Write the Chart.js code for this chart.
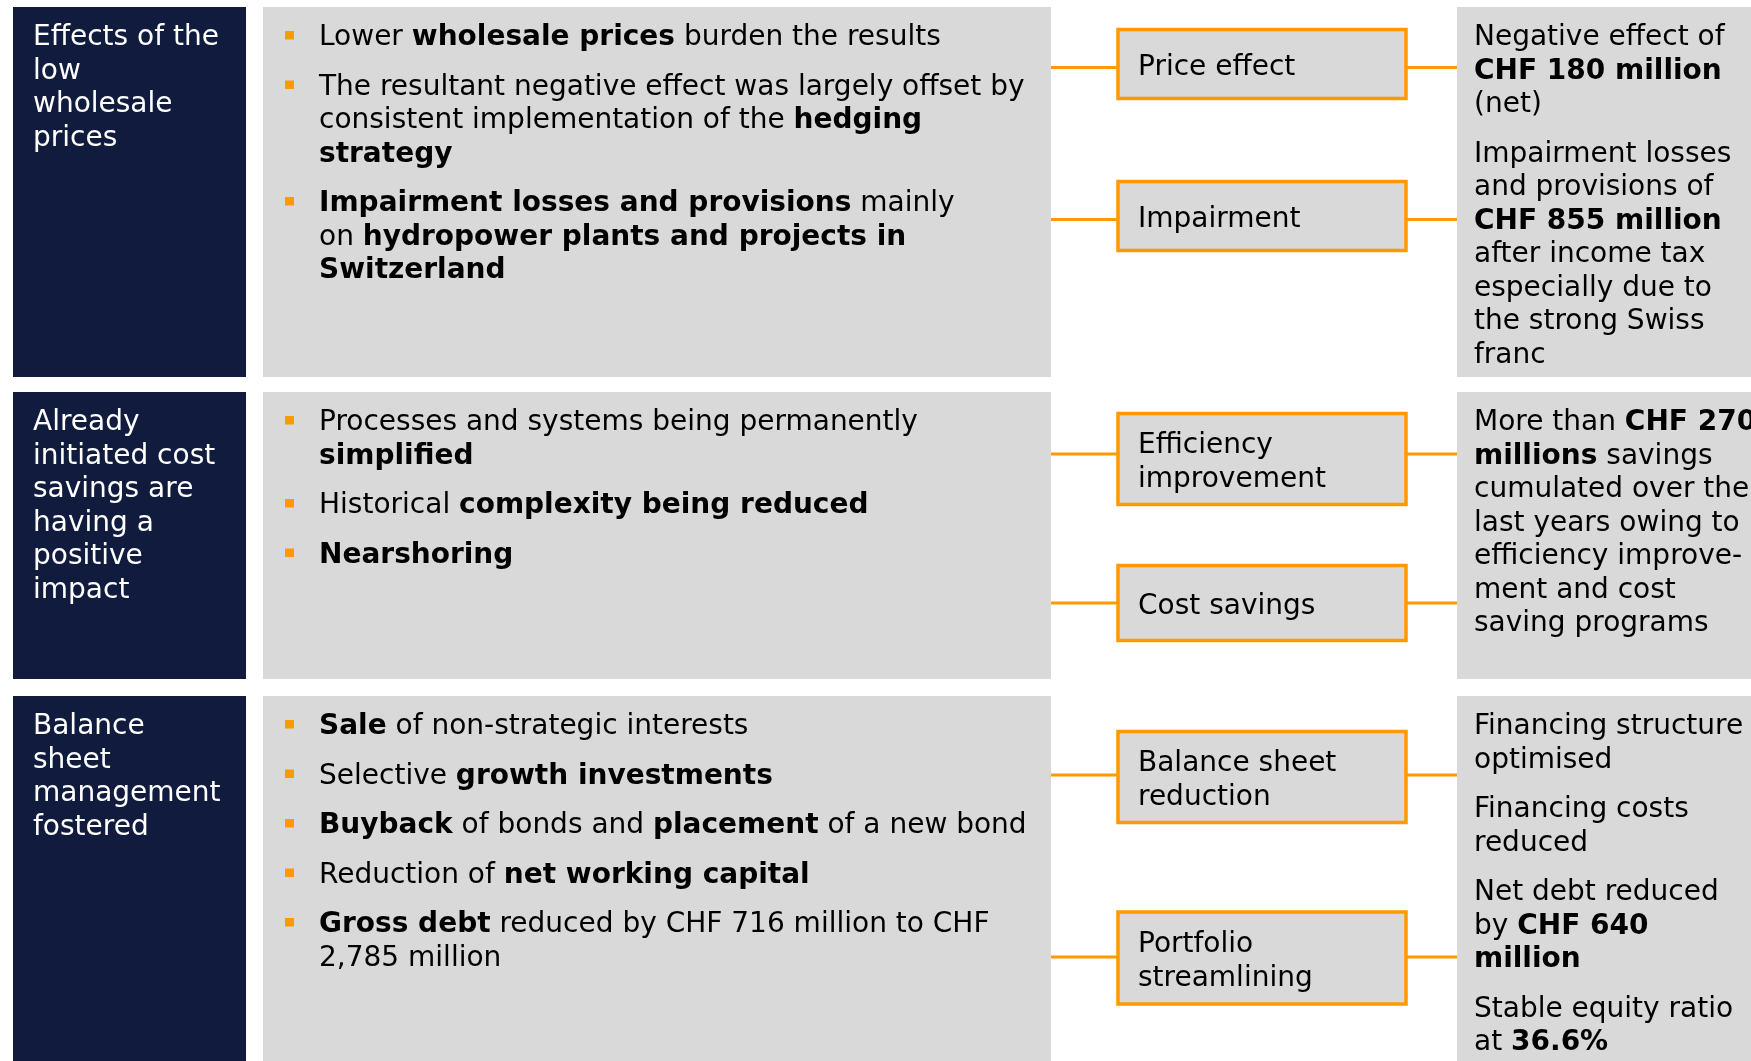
<!DOCTYPE html>
<html>
<head>
<meta charset="utf-8">
<script src="https://cdn.jsdelivr.net/npm/chart.js@4.4.0/dist/chart.umd.min.js"></script>
<style>
  html, body { margin: 0; padding: 0; background: #fff; overflow: hidden; }
  canvas { display: block; }
</style>
</head>
<body>
<canvas id="chart" width="1751" height="1061"></canvas>
<script>
/* globals Chart */

// text content (** marks bold runs)
const rowTitles = [
  ["Effects of the", "low", "wholesale", "prices"],
  ["Already", "initiated cost", "savings are", "having a", "positive", "impact"],
  ["Balance", "sheet", "management", "fostered"],
];

const rowBullets = [
  [
    ["Lower **wholesale prices** burden the results"],
    ["The resultant negative effect was largely offset by", "consistent implementation of the **hedging**", "**strategy**"],
    ["**Impairment losses and provisions** mainly", "on **hydropower plants and projects in**", "**Switzerland**"],
  ],
  [
    ["Processes and systems being permanently", "**simplified**"],
    ["Historical **complexity being reduced**"],
    ["**Nearshoring**"],
  ],
  [
    ["**Sale** of non-strategic interests"],
    ["Selective **growth investments**"],
    ["**Buyback** of bonds and **placement** of a new bond"],
    ["Reduction of **net working capital**"],
    ["**Gross debt** reduced by CHF 716 million to CHF", "2,785 million"],
  ],
];

const driverLabels = [
  [["Price effect"], ["Impairment"]],
  [["Efficiency", "improvement"], ["Cost savings"]],
  [["Balance sheet", "reduction"], ["Portfolio", "streamlining"]],
];

const outcomeTexts = [
  [
    ["Negative effect of", "**CHF 180 million**", "(net)"],
    ["Impairment losses", "and provisions of", "**CHF 855 million**", "after income tax", "especially due to", "the strong Swiss", "franc"],
  ],
  [
    ["More than **CHF 270**", "**millions** savings", "cumulated over the", "last years owing to", "efficiency improve-", "ment and cost", "saving programs"],
  ],
  [
    ["Financing structure", "optimised"],
    ["Financing costs", "reduced"],
    ["Net debt reduced", "by **CHF 640**", "**million**"],
    ["Stable equity ratio", "at **36.6%**"],
  ],
];

// layout (in page units, mapped through the chart scales)
const W = 1751, H = 1061;
const rowBands = [[7, 377], [392, 679], [696, 1061]];
const colNavy = [13, 246], colMid = [263, 1051], colBox = [1118, 1406], colRight = [1457, W];
// box centre, height, and where the connector meets it
const boxGeom = [
  [{ cy: 64, h: 69, ly: 67.5 }, { cy: 216, h: 69, ly: 219.5 }],
  [{ cy: 459, h: 91, ly: 454 }, { cy: 603, h: 75, ly: 603 }],
  [{ cy: 777, h: 91, ly: 775 }, { cy: 958, h: 92, ly: 957 }],
];

const NAVY = "#101b3d";
const GREY = "#d9d9d9";
const ORANGE = "#ff9900";
const FONT = '"DejaVu Sans", Verdana, sans-serif';
const FS = 28;
const SX = 1.0;
const LH = 33.5;
const PGAP = 16;

const splitRuns = (line) =>
  line.split("**").map((t, i) => ({ t, bold: i % 2 === 1 })).filter((r) => r.t.length);

const drawLine = (ctx, line, x, y, color) => {
  ctx.save();
  ctx.translate(x, y);
  ctx.scale(SX, 1);
  ctx.fillStyle = color;
  ctx.textBaseline = "alphabetic";
  let dx = 0;
  splitRuns(line).forEach((r) => {
    ctx.font = `${r.bold ? "bold " : ""}${FS}px ${FONT}`;
    ctx.fillText(r.t, dx, 0);
    dx += ctx.measureText(r.t).width;
  });
  ctx.restore();
};

const diagramPlugin = {
  id: "diagram",
  afterDatasetsDraw: (chart) => {
    const { ctx } = chart;
    const X = (v) => chart.scales.x.getPixelForValue(v);
    const Y = (v) => chart.scales.y.getPixelForValue(v);
    const rect = (x0, y0, x1, y1, fill) => {
      ctx.fillStyle = fill;
      ctx.fillRect(X(x0), Y(y0), X(x1) - X(x0), Y(y1) - Y(y0));
    };
    const base = (c) => Y(c + 10);

    ctx.save();
    rowBands.forEach(([top, bottom], r) => {
      rect(colNavy[0], top, colNavy[1], bottom, NAVY);
      rect(colMid[0], top, colMid[1], bottom, GREY);
      rect(colRight[0], top, colRight[1], bottom, GREY);

      // row title
      rowTitles[r].forEach((line, i) => drawLine(ctx, line, X(colNavy[0] + 20), base(top + 28 + i * LH), "#fff"));

      // bullets
      let cy = top + 28;
      rowBullets[r].forEach((para) => {
        rect(285, cy - 4, 294, cy + 4.5, ORANGE);
        para.forEach((line, i) => drawLine(ctx, line, X(319), base(cy + i * LH), "#000"));
        cy += para.length * LH + PGAP;
      });

      // outcomes
      cy = top + 28;
      outcomeTexts[r].forEach((para) => {
        para.forEach((line, i) => drawLine(ctx, line, X(colRight[0] + 17), base(cy + i * LH), "#000"));
        cy += para.length * LH + PGAP;
      });

      // driver boxes with connectors
      boxGeom[r].forEach((g, k) => {
        ctx.strokeStyle = ORANGE;
        ctx.lineWidth = 3;
        ctx.beginPath();
        ctx.moveTo(X(colMid[1]), Y(g.ly));
        ctx.lineTo(X(colBox[0]), Y(g.ly));
        ctx.moveTo(X(colBox[1]), Y(g.ly));
        ctx.lineTo(X(colRight[0]), Y(g.ly));
        ctx.stroke();
        const y0 = g.cy - g.h / 2, y1 = g.cy + g.h / 2;
        rect(colBox[0], y0, colBox[1], y1, GREY);
        ctx.lineWidth = 3.5;
        ctx.strokeRect(X(colBox[0]), Y(y0), X(colBox[1]) - X(colBox[0]), Y(y1) - Y(y0));
        const lines = driverLabels[r][k];
        const first = g.cy - ((lines.length - 1) * LH) / 2 + 1;
        lines.forEach((line, i) => drawLine(ctx, line, X(colBox[0] + 20), base(first + i * LH), "#000"));
      });
    });
    ctx.restore();
  },
};

new Chart(document.getElementById("chart"), {
  type: "scatter",
  data: { datasets: [{ data: [] }] },
  options: {
    responsive: false,
    animation: false,
    devicePixelRatio: 1,
    layout: { padding: 0 },
    plugins: { legend: { display: false }, tooltip: { enabled: false } },
    scales: {
      x: { type: "linear", min: 0, max: W, display: false },
      y: { type: "linear", min: 0, max: H, reverse: true, display: false },
    },
  },
  plugins: [diagramPlugin],
});
</script>
</body>
</html>
